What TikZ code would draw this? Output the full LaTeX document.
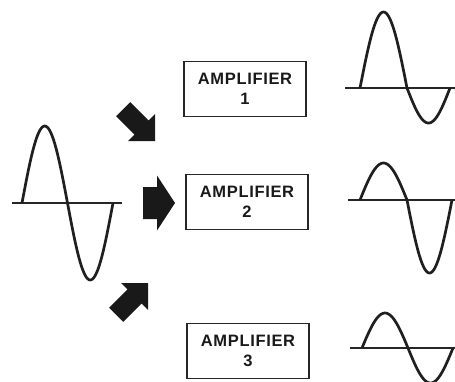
\documentclass[tikz,border=0pt]{standalone}
\usepackage{fontspec}
\setmainfont{Liberation Sans}
\newfontfamily\ampfont[LetterSpace=4]{Liberation Sans}
\usepackage{tikz}

\newcommand{\fatarrow}[6]{%
  \fill[arrowink,shift={(#1)},rotate=#2] (0,0) -- (-#5,#6) -- (-#5,#4) -- ({-#5-#3},#4)
    -- ({-#5-#3},-#4) -- (-#5,-#4) -- (-#5,-#6) -- cycle;}

\begin{document}
\begin{tikzpicture}[x=1pt,y=-1pt,
    ampbox/.style={draw=black!85,line width=1.2pt,minimum width=122pt,minimum height=55pt,
      inner sep=0pt,align=center,text=black!90,font=\ampfont\bfseries\fontsize{16.5}{20}\selectfont},
    wave/.style={draw=black!88,line width=2.7pt,line join=round},
    waveaxis/.style={draw=black!85,line width=1.3pt},
    arrowink/.style={fill=black!90}]
    \useasboundingbox (0,0) rectangle (455,381);
    \clip (0,0) rectangle (455,381);

    \draw[waveaxis] (12,203) -- (122,203);
    \draw[wave] plot[domain=0:360,samples=73] ({22+\x/360*91},{203-77*sin(\x)});

    \fatarrow{155,141}{-45}{26}{10}{19}{19}
    \fatarrow{175,203}{0}{14}{16}{18}{27.5}
    \fatarrow{148,283}{45}{26}{10}{19}{19}

    \node[ampbox] (amp1) at (245,89) {AMPLIFIER\\1};
    \node[ampbox] (amp2) at (247,202) {AMPLIFIER\\2};
    \node[ampbox] (amp3) at (248,351) {AMPLIFIER\\3};

    \draw[waveaxis] (345,88) -- (455,88);
    \draw[wave] plot[domain=0:180,samples=37] ({360+\x/180*47},{88-76*sin(\x)})
      -- plot[domain=180:360,samples=37] ({407+(\x-180)/180*43},{88-35*sin(\x)});

    \draw[waveaxis] (348,200) -- (455,200);
    \draw[wave] plot[domain=0:180,samples=37] ({360+\x/180*47},{200-37*sin(\x)})
      -- plot[domain=180:360,samples=37] ({407+(\x-180)/180*45},{200-73*sin(\x)});

    \draw[waveaxis] (350,348) -- (455,348);
    \draw[wave] plot[domain=0:180,samples=37] ({362+\x/180*46},{348-35*sin(\x)})
      -- plot[domain=180:360,samples=37] ({408+(\x-180)/180*45},{348-35*sin(\x)});
\end{tikzpicture}
\end{document}
